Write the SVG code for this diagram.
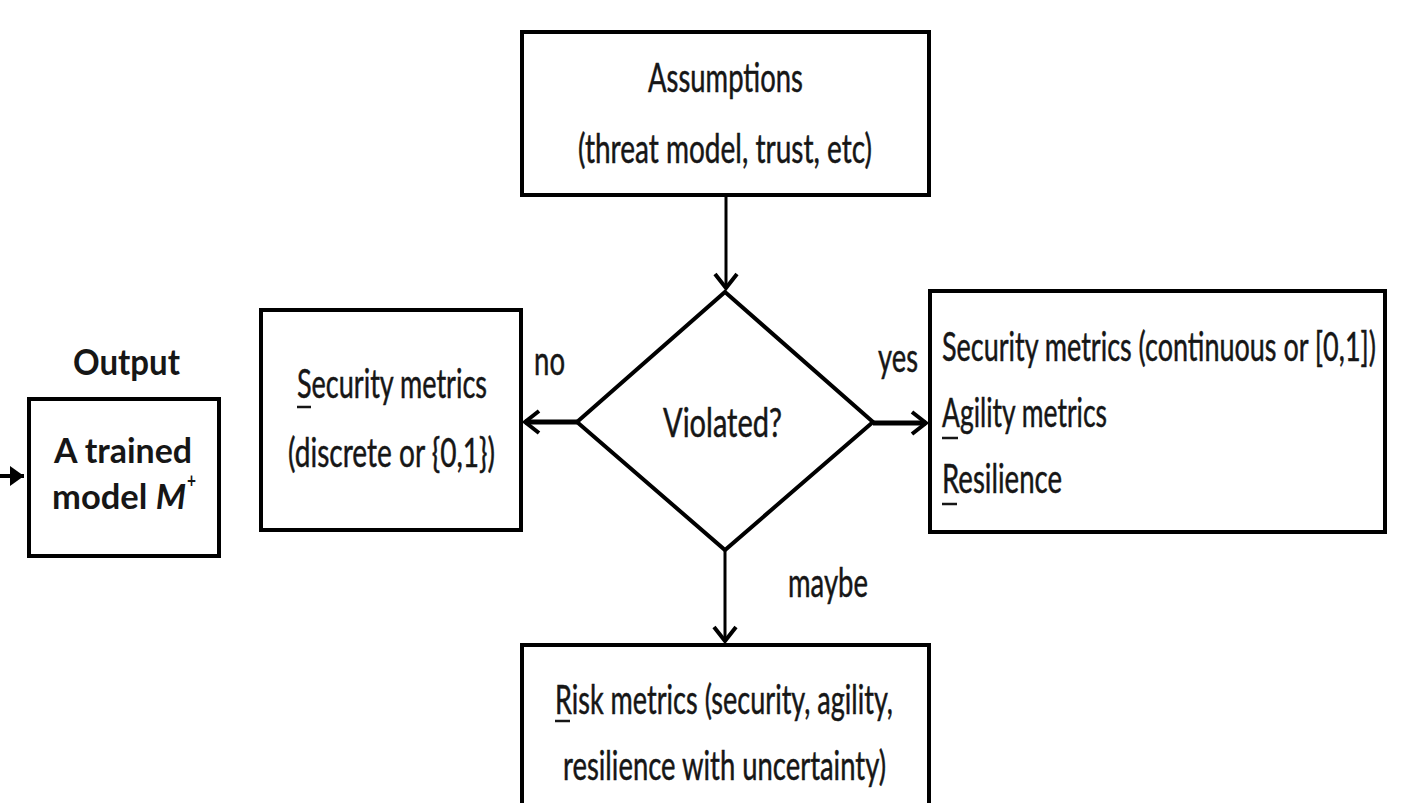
<svg xmlns="http://www.w3.org/2000/svg" width="1405" height="803" viewBox="0 0 1405 803">
  <style>
    .box { fill: #ffffff; stroke: #000000; stroke-width: 4; }
    .lbl { font-family: Lato, "Liberation Sans", "DejaVu Sans", sans-serif; font-size: 40px; fill: #161616; stroke: #161616; stroke-width: 0.5; }
    .out { font-family: Lato, "Liberation Sans", "DejaVu Sans", sans-serif; font-weight: bold; fill: #161616; }
    .edge { fill: none; stroke: #000000; }
    .ul { stroke: #161616; stroke-width: 2.5; }
  </style>
  <defs>
    <marker id="open-head" markerUnits="userSpaceOnUse" viewBox="-20 -15 24 30" refX="0" refY="0" markerWidth="24" markerHeight="30" orient="auto">
      <path d="M -14 -11 L 0 0 L -14 11" fill="none" stroke="#000" stroke-width="4"/>
    </marker>
    <marker id="solid-head" markerUnits="userSpaceOnUse" viewBox="-16 -12 18 24" refX="0" refY="0" markerWidth="18" markerHeight="24" orient="auto">
      <path d="M -14 -10 L 0 0 L -14 10 Z" fill="#000"/>
    </marker>
  </defs>
  <rect width="1405" height="803" fill="#ffffff"/>

  <!-- connectors and branch labels -->
  <g id="connectors">
    <path class="edge" d="M 726 195 L 726 288" stroke-width="3" marker-end="url(#open-head)"/>
    <path class="edge" d="M 577 422 L 525 422" stroke-width="5" marker-end="url(#open-head)"/>
    <path class="edge" d="M 873 423 L 926 423" stroke-width="5" marker-end="url(#open-head)"/>
    <path class="edge" d="M 725 550 L 725 641" stroke-width="3" marker-end="url(#open-head)"/>
    <path class="edge" d="M -10 476 L 24 476" stroke-width="4" marker-end="url(#solid-head)"/>
    <text class="lbl" x="534" y="375" textLength="31" lengthAdjust="spacingAndGlyphs">no</text>
    <text class="lbl" x="878" y="372" textLength="40" lengthAdjust="spacingAndGlyphs">yes</text>
    <text class="lbl" x="788" y="597" textLength="80" lengthAdjust="spacingAndGlyphs">maybe</text>
  </g>

  <!-- assumptions -->
  <g id="assumptions">
    <rect class="box" x="522" y="32" width="407" height="163"/>
    <text class="lbl" x="648" y="92" textLength="155" lengthAdjust="spacingAndGlyphs">Assumptions</text>
    <text class="lbl" x="578" y="163" textLength="294" lengthAdjust="spacingAndGlyphs">(threat model, trust, etc)</text>
  </g>

  <!-- decision -->
  <g id="violated">
    <polygon points="725,292 873,422 725,550 577,422" fill="#ffffff" stroke="#000" stroke-width="4" stroke-linejoin="miter"/>
    <text class="lbl" x="663" y="437" textLength="119" lengthAdjust="spacingAndGlyphs">Violated?</text>
  </g>

  <!-- no branch -->
  <g id="security-discrete">
    <rect class="box" x="261" y="310" width="260" height="220"/>
    <text class="lbl" x="297" y="398" textLength="190" lengthAdjust="spacingAndGlyphs">Security metrics</text>
    <line class="ul" x1="297" y1="407" x2="311" y2="407"/>
    <text class="lbl" x="288" y="467" textLength="207" lengthAdjust="spacingAndGlyphs">(discrete or {0,1})</text>
  </g>

  <!-- yes branch -->
  <g id="security-continuous">
    <rect class="box" x="930" y="291" width="455" height="241"/>
    <text class="lbl" x="942" y="361" textLength="434" lengthAdjust="spacingAndGlyphs">Security metrics (continuous or [0,1])</text>
    <text class="lbl" x="942" y="427" textLength="165" lengthAdjust="spacingAndGlyphs">Agility metrics</text>
    <line class="ul" x1="942" y1="438" x2="958" y2="438"/>
    <text class="lbl" x="942" y="493" textLength="120" lengthAdjust="spacingAndGlyphs">Resilience</text>
    <line class="ul" x1="942" y1="504" x2="957" y2="504"/>
  </g>

  <!-- maybe branch -->
  <g id="risk">
    <rect class="box" x="522" y="645" width="407" height="200"/>
    <text class="lbl" x="555" y="714" textLength="338" lengthAdjust="spacingAndGlyphs">Risk metrics (security, agility,</text>
    <line class="ul" x1="555" y1="721" x2="570" y2="721"/>
    <text class="lbl" x="563" y="780" textLength="323" lengthAdjust="spacingAndGlyphs">resilience with uncertainty)</text>
  </g>

  <!-- trained model output -->
  <g id="output">
    <text class="out" x="73" y="375" font-size="36" textLength="107" lengthAdjust="spacingAndGlyphs">Output</text>
    <rect class="box" x="29" y="399" width="190" height="157"/>
    <text class="out" x="54" y="463" font-size="34" textLength="138" lengthAdjust="spacingAndGlyphs">A trained</text>
    <text class="out" x="52" y="509" font-size="34" textLength="134" lengthAdjust="spacingAndGlyphs">model <tspan font-style="italic">M</tspan></text>
    <text class="out" x="187" y="488" font-size="20" textLength="9" lengthAdjust="spacingAndGlyphs">+</text>
  </g>
</svg>
